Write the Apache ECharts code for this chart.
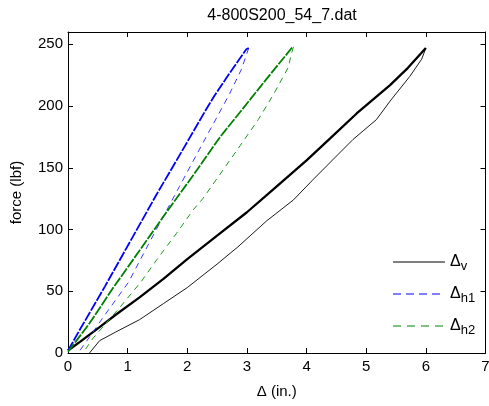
<!DOCTYPE html>
<html><head><meta charset="utf-8">
<script src="https://cdn.jsdelivr.net/npm/echarts@6/dist/echarts.min.js"></script>
<style>html,body{margin:0;padding:0;background:#fff}#c{width:489px;height:406px}</style>
</head><body><div id="c"></div>
<script>
const titleText = '4-800S200_54_7.dat';
const xTicks = [0,1,2,3,4,5,6,7];
const yTicks = [0,50,100,150,200,250];
// [delta (in.), force (lbf)]
const vLoad = [[0,2],[0.2,9],[0.53,21],[0.8,31],[1.2,45],[1.6,60],[2,76],[2.5,95],[3,114],[3.5,135],[4,156],[4.4,174],[4.84,194],[5.4,217],[5.7,231],[6,247]];
const vUnload = [[6,247],[5.93,238],[5.73,224],[5.4,204],[5.17,189],[4.78,173],[4.47,158],[4.1,140],[3.78,124],[3.33,107],[2.85,86],[2.5,72],[2,53],[1.6,40],[1.2,27],[0.8,17],[0.53,10],[0.36,0]];
const h1Load = [[0,2],[0.2,19],[0.62,54],[1.05,91],[1.48,128],[1.82,156],[2.3,196],[2.45,208],[2.7,226],[2.99,246],[3.03,247]];
const h1Unload = [[3.03,247],[2.91,230],[2.71,210],[2.52,193],[2.26,170],[1.87,135],[1.48,100],[1.01,57],[0.62,31],[0.42,17],[0.2,2],[0.17,0]];
const h2Load = [[0,1],[0.36,24],[0.76,53],[1.2,83],[1.65,114],[2.1,144],[2.55,175],[2.85,193],[3.33,222],[3.75,247],[3.78,248]];
const h2Unload = [[3.78,248],[3.75,243],[3.69,231],[3.44,209],[3.19,189],[2.8,162],[2.26,125],[2.1,116],[1.82,97],[1.48,75],[1.23,58],[0.87,37],[0.42,12],[0.25,0]];
const names = ['Δv','Δh1','Δh2'];

const font = 'Liberation Sans, Arial, sans-serif';
const chart = echarts.init(document.getElementById('c'));
function axisX(pos, show){
  return {type:'value', position:pos, min:0, max:7, interval:1,
    axisLine:{show:true, onZero:false, lineStyle:{color:'#000', width:1}},
    axisTick:{show:true, inside:true, length:5, lineStyle:{color:'#000'}},
    axisLabel:{show:show, color:'#000', fontSize:15, fontFamily:font, margin:6,
      formatter: v => xTicks.includes(v) ? String(v) : ''},
    splitLine:{show:false},
    name: show ? 'Δ (in.)' : '', nameLocation:'middle', nameGap:31,
    nameTextStyle:{color:'#000', fontSize:15, fontFamily:font}};
}
function axisY(pos, show){
  return {type:'value', position:pos, min:0, max:260, interval:50,
    axisLine:{show:true, onZero:false, lineStyle:{color:'#000', width:1}},
    axisTick:{show:true, inside:true, length:5, lineStyle:{color:'#000'},
      customValues: yTicks},
    axisLabel:{show:show, color:'#000', fontSize:15, fontFamily:font, margin:5,
      customValues: yTicks},
    splitLine:{show:false},
    name: show ? 'force (lbf)' : '', nameLocation:'middle', nameGap:44,
    nameTextStyle:{color:'#000', fontSize:15, fontFamily:font}};
}
function line(name, data, color, width, type){
  return {name:name, type:'line', data:data, showSymbol:false, symbol:'none',
    animation:false, lineStyle:{color:color, width:width, type:type}, itemStyle:{color:color}};
}
chart.setOption({
  animation:false,
  title:{text:titleText, left:277, textAlign:'center', top:3,
    textStyle:{fontSize:16, fontWeight:'normal', color:'#000', fontFamily:font}},
  grid:{left:68, right:3.5, top:32, bottom:53, outerBoundsMode:'none', containLabel:false},
  xAxis:[axisX('bottom', true), axisX('top', false)],
  yAxis:[axisY('left', true), axisY('right', false)],
  legend:{orient:'vertical', left:387, top:249, itemGap:13, itemWidth:52, itemHeight:20,
    data:[
      {name:names[0], itemStyle:{opacity:0}, lineStyle:{color:'#000', width:1, type:'solid'}},
      {name:names[1], itemStyle:{opacity:0}, lineStyle:{color:'#7f7fff', width:2, type:[8,5]}},
      {name:names[2], itemStyle:{opacity:0}, lineStyle:{color:'#008000', width:1, type:[8,6]}}
    ],
    formatter: n => '{d|Δ}{s|' + n.slice(1) + '}',
    textStyle:{color:'#000', fontFamily:font, fontSize:16,
      rich:{d:{fontSize:16, fontFamily:font, color:'#000'}, s:{fontSize:13, fontFamily:font, color:'#000', padding:[9,0,0,0]}}}
  },
  series:[
    line(names[0], vUnload, '#000', 0.9, 'solid'),
    line(names[0], vLoad, '#000', 2.3, 'solid'),
    line(names[1], h1Unload, '#3a3aff', 1, [6,5]),
    line(names[1], h1Load, '#0000ff', 1.8, [10,1.5]),
    line(names[2], h2Unload, '#1a9a1a', 1, [6,5]),
    line(names[2], h2Load, '#008000', 1.8, [10,1.5])
  ]
});
</script></body></html>
